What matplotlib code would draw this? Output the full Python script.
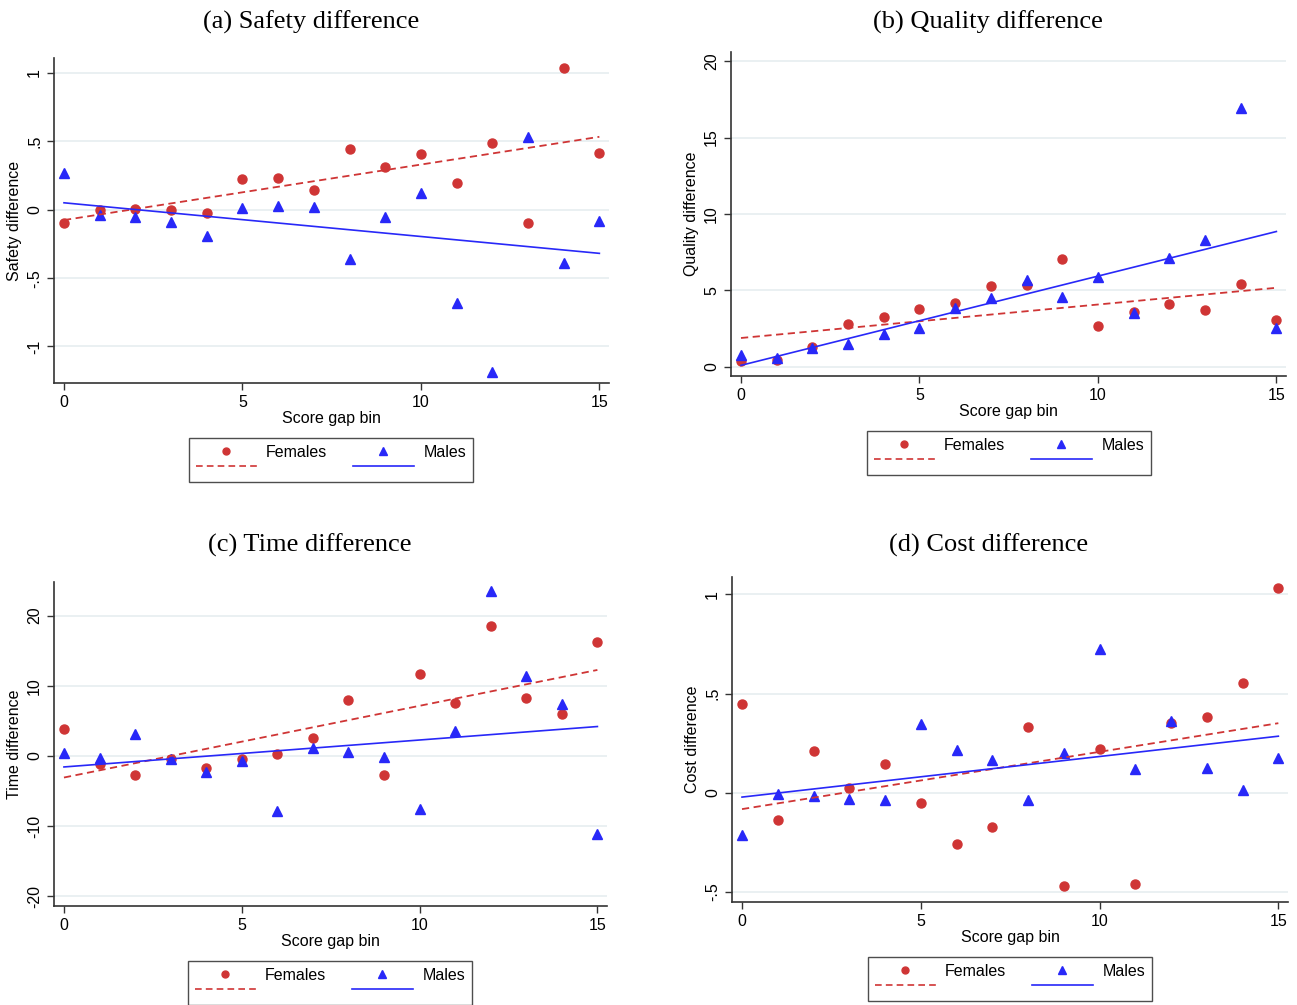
import numpy as np
from matplotlib import pyplot as plt
from matplotlib.lines import Line2D

bins = np.arange(16)

# (a) safety
safety_f = [-0.10, -0.005, 0.005, -0.005, -0.027, 0.222, 0.232, 0.144,
            0.445, 0.31, 0.406, 0.198, 0.489, -0.10, 1.04, 0.413]
safety_m = [0.27, -0.037, -0.056, -0.088, -0.19, 0.01, 0.024, 0.017,
            -0.357, -0.051, 0.125, -0.68, -1.19, 0.533, -0.389, -0.083]

# (b) quality
quality_f = [0.37, 0.46, 1.27, 2.79, 3.23, 3.78, 4.19, 5.28,
             5.37, 7.07, 2.69, 3.56, 4.08, 3.73, 5.39, 3.08]
quality_m = [0.74, 0.59, 1.2, 1.48, 2.16, 2.51, 3.84, 4.52,
             5.7, 4.54, 5.85, 3.49, 7.14, 8.3, 16.92, 2.51]

# (c) time
time_f = [3.8, -1.19, -2.76, -0.48, -1.76, -0.48, 0.24, 2.57,
          7.93, -2.76, 11.69, 7.6, 18.48, 8.27, 5.99, 16.29]
time_m = [0.48, -0.29, 3.18, -0.43, -2.23, -0.71, -7.84, 1.14,
          0.52, -0.1, -7.6, 3.61, 23.5, 11.35, 7.46, -11.1]

# (d) cost
cost_f = [0.445, -0.136, 0.213, 0.023, 0.143, -0.052, -0.257, -0.173,
          0.329, -0.47, 0.223, -0.46, 0.351, 0.383, 0.552, 1.034]
cost_m = [-0.213, -0.007, -0.018, -0.029, -0.037, 0.347, 0.218, 0.164,
          -0.034, 0.198, 0.723, 0.119, 0.364, 0.124, 0.015, 0.174]

titles = ["(a) Safety difference", "(b) Quality difference",
          "(c) Time difference", "(d) Cost difference"]
ylabels = ["Safety difference", "Quality difference",
           "Time difference", "Cost difference"]
yticks = [[-1, -0.5, 0, 0.5, 1], [0, 5, 10, 15, 20],
          [-20, -10, 0, 10, 20], [-0.5, 0, 0.5, 1]]
yticklabels = [["-1", "-.5", "0", ".5", "1"], ["0", "5", "10", "15", "20"],
               ["-20", "-10", "0", "10", "20"], ["-.5", "0", ".5", "1"]]
ylims = [(-1.267, 1.11), (-0.61, 20.6), (-21.4, 24.8), (-0.55, 1.087)]

RED = "#cf3535"
BLUE = "#2828f8"
GRID = "#e6eef0"

plt.rcParams['font.family'] = ['Liberation Sans', 'DejaVu Sans']

W, H = 1297, 1005
fig = plt.figure(figsize=(W / 100, H / 100), dpi=100)

# axes boxes in pixels: left, right, top, bottom
boxes = [(54, 609, 58, 383), (731, 1286, 52, 376),
         (54, 607, 582, 906), (732, 1288, 577, 902)]
legend_centers = [(331, 460), (1009, 453), (330, 983), (1010, 979)]
title_pos = [(311, 22), (988, 22), (310, 545), (989, 545)]

data = [(safety_f, safety_m), (quality_f, quality_m),
        (time_f, time_m), (cost_f, cost_m)]

for i, (fem, mal) in enumerate(data):
    l, r, t, b = boxes[i]
    ax = fig.add_axes([l / W, 1 - b / H, (r - l) / W, (b - t) / H])
    fem = np.array(fem)
    mal = np.array(mal)

    ax.plot(bins, fem, 'o', color=RED, ms=6.5, mec=RED, zorder=3)
    ax.plot(bins, mal, '^', color=BLUE, ms=7, mec=BLUE, zorder=3)

    # linear fits
    pf = np.polyfit(bins, fem, 1)
    pm = np.polyfit(bins, mal, 1)
    ax.plot(bins, np.polyval(pf, bins), '--', color=RED, lw=1.3,
            dashes=(4, 2.5), zorder=4)
    ax.plot(bins, np.polyval(pm, bins), '-', color=BLUE, lw=1.2, zorder=4)

    ax.set_xlim(-0.28, 15.27)
    ax.set_ylim(*ylims[i])
    ax.set_xticks([0, 5, 10, 15])
    ax.set_yticks(yticks[i])
    ax.set_yticklabels(yticklabels[i], rotation=90, va='center')
    ax.tick_params(labelsize=11.5, length=5, width=1, color='#333333')
    ax.grid(axis='y', color=GRID, lw=1.2)
    ax.set_axisbelow(True)
    for s in ['top', 'right']:
        ax.spines[s].set_visible(False)
    for s in ['left', 'bottom']:
        ax.spines[s].set_color('#333333')
        ax.spines[s].set_linewidth(1.2)
    ax.set_xlabel("Score gap bin", fontsize=11.5, labelpad=1)
    ax.set_ylabel(ylabels[i], fontsize=11.5, labelpad=4)

    tx, ty = title_pos[i]
    fig.text(tx / W, 1 - ty / H, titles[i],
             ha='center', va='center', fontsize=19,
             family=['Liberation Serif', 'DejaVu Serif'])

    handles = [Line2D([], [], marker='o', ls='none', color=RED, ms=5),
               Line2D([], [], ls='--', color=RED, lw=1.2, dashes=(4, 2.5)),
               Line2D([], [], marker='^', ls='none', color=BLUE, ms=6),
               Line2D([], [], ls='-', color=BLUE, lw=1.2)]
    lx, ly = legend_centers[i]
    leg = fig.legend(handles, ["Females", " ", "Males", " "], ncol=2,
                     loc='center', bbox_to_anchor=(lx / W, 1 - ly / H),
                     fontsize=11.5, handlelength=3.8, labelspacing=0.0,
                     columnspacing=1.6, handletextpad=0.6, borderpad=0.45,
                     fancybox=False, frameon=True, edgecolor='#222222')
    leg.get_frame().set_linewidth(1.0)

fig.savefig("out.png", dpi=100)
